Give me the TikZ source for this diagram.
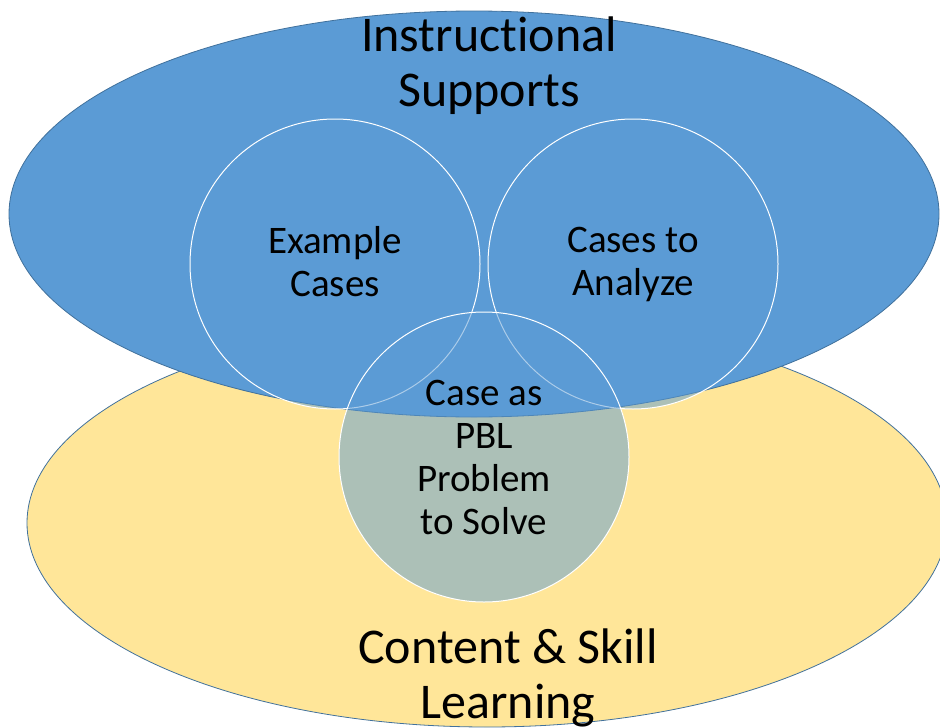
\documentclass[tikz,border=0pt]{standalone}
\usepackage{fontspec}
\setmainfont{Carlito}[Ligatures={NoCommon,NoContextual}]
\usepackage{tikz}
\usetikzlibrary{shapes.geometric}
\definecolor{suppblue}{HTML}{5B9BD5}
\definecolor{learnyellow}{HTML}{FFE699}
\definecolor{rimblue}{HTML}{41719C}

\begin{document}
\begin{tikzpicture}[x=1pt,y=-1pt,
  oval/.style={ellipse,draw=rimblue,line width=.8pt,inner sep=0pt},
  bubble/.style={circle,draw=white,line width=1pt,fill=suppblue,fill opacity=.5,text opacity=1,minimum size=290pt,inner sep=0pt,align=center,font=\fontsize{39}{43}\selectfont},
  heading/.style={align=center,font=\fontsize{50}{55}\selectfont}]
\useasboundingbox (0,0) rectangle (940,728);
\clip (0,0) rectangle (940,728);
\node[oval,fill=learnyellow,minimum width=920pt,minimum height=408pt] (learn) at (487,523) {};
\node[oval,fill=suppblue,minimum width=930pt,minimum height=406pt] (supp) at (474,214) {};
\node[heading] (supptitle) at (489,66) {Instructional\\Supports};
\node[heading] (learntitle) at (508,678) {Content \& Skill\\Learning};
\node[bubble] (example) at (335,264) {};
\node[align=center,font=\fontsize{39}{43}\selectfont] (examplelabel) at (335,262) {Example\\Cases};
\node[bubble] (analyze) at (633,264) {Cases to\\Analyze};
\node[bubble] (pbl) at (484,457) {Case as\\PBL\\Problem\\to Solve};
\end{tikzpicture}
\end{document}
